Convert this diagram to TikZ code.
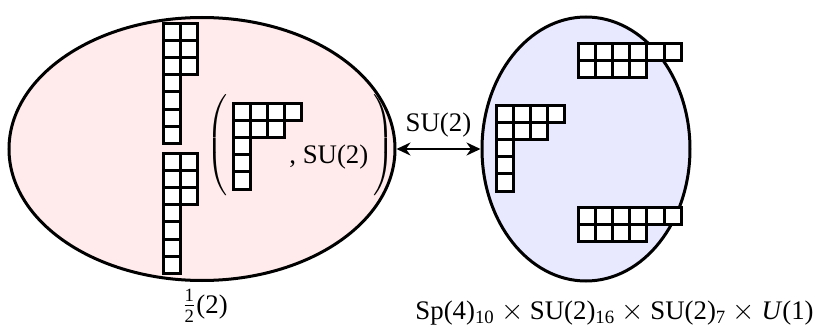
\documentclass[tikz,border=0pt]{standalone}
\usepackage{amsmath}
\usepackage{fontspec}
\setmainfont{Liberation Serif}
\usepackage{tikz}
\usetikzlibrary{shapes.geometric, arrows.meta, positioning}

% box size of the Young diagrams (px)
\def\bs{17.2}
% Young diagram: #1,#2 = top-left corner, #3 = row lengths
\newcommand{\ydiag}[3]{%
  \foreach \len [count=\r from 0] in {#3}{
    \foreach \c in {1,...,\len}{
      \draw[ybox] ({#1+(\c-1)*\bs},{#2+\r*\bs}) rectangle ++(\bs,\bs);
    }}}

\begin{document}
\begin{tikzpicture}[
  x=0.5pt, y=-0.5pt,
  font=\fontsize{13.4}{16}\selectfont,
  blob/.style={
    ellipse, draw=black, line width=1.5pt, inner sep=0pt
  },
  ybox/.style={draw=black, fill=white, line width=1.5pt},
  paren/.style={inner sep=0pt, font=\fontsize{12}{14}\selectfont},
  link/.style={{Stealth[length=7pt,width=6.5pt]}-{Stealth[length=7pt,width=6.5pt]}, line width=1.3pt}
]
\useasboundingbox (0,0) rectangle (816,332);

% ── the two sides ───────────────────────────────────────────
\node[blob, fill=red!8, minimum width=193pt, minimum height=131.5pt] (lft) at (202,149) {};
\node[blob, fill=blue!9, minimum width=104pt, minimum height=132pt] (rgt) at (586,149) {};

% ── left side diagrams ──────────────────────────────────────
\ydiag{163}{23}{2,2,2,1,1,1,1}
\ydiag{163}{153}{2,2,2,1,1,1,1}
\node[paren] (lpar) at (218,146) {$\left(\rule[-23pt]{0pt}{46pt}\right.$};
\ydiag{233}{103}{4,3,1,1,1}
\node[anchor=base west, inner sep=0pt] (lgrp) at (289,163) {, SU(2)};
\node[paren] (rpar) at (383,146) {$\left.\rule[-23pt]{0pt}{46pt}\right)$};

% ── right side diagrams ─────────────────────────────────────
\ydiag{578}{43}{6,4}
\ydiag{496}{105}{4,3,1,1,1}
\ydiag{578}{207}{6,4}

% ── gauging arrow ───────────────────────────────────────────
\draw[link] (lft.east) -- (rgt.west) node[midway, above=2pt] (glab) {SU(2)};

% ── labels ──────────────────────────────────────────────────
\node[anchor=base] (lname) at (205,313) {$\frac{\text{1}}{\text{2}}$(2)};
\node[anchor=base east, inner sep=0pt] (rname) at (814,319)
  {Sp(4)\textsubscript{10}${}\times{}$SU(2)\textsubscript{16}${}\times{}$SU(2)\textsubscript{7}${}\times{}$\textit{U}(1)};

\end{tikzpicture}
\end{document}
